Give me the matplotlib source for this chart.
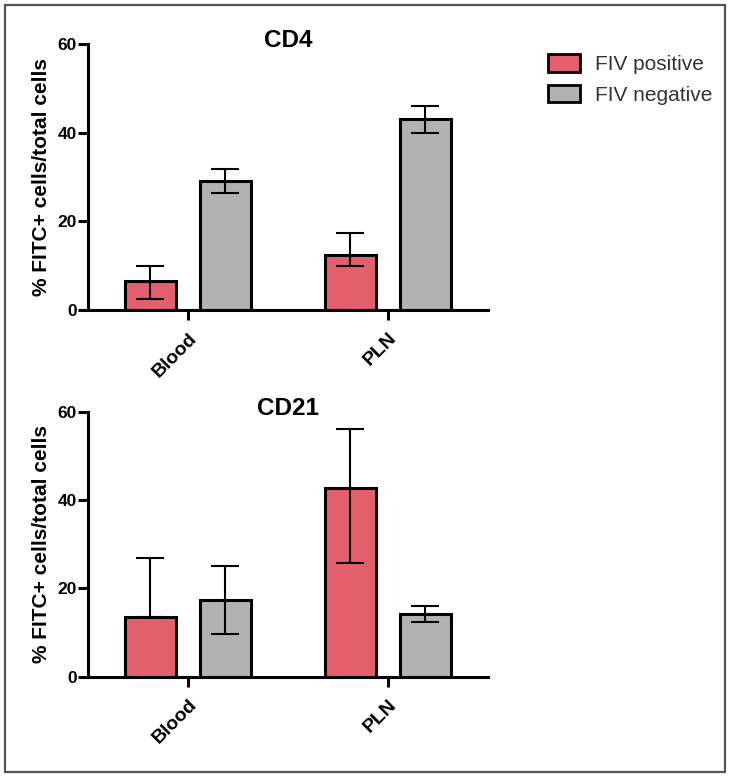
import numpy as np
import matplotlib
matplotlib.use("Agg")
from matplotlib import pyplot as plt
from matplotlib.patches import Rectangle
import matplotlib.transforms as mtransforms

# 数据
tissues = ["Blood", "PLN"]
groups = ["FIV positive", "FIV negative"]

cd4_pos = [6.5, 12.4]
cd4_pos_err_lo = [4.0, 2.5]
cd4_pos_err_hi = [3.4, 5.0]
cd4_neg = [29.1, 43.0]
cd4_neg_err = [2.6, 3.0]

cd21_pos = [13.6, 42.8]
cd21_pos_err_lo = [0.0, 17.0]
cd21_pos_err_hi = [13.3, 13.4]
cd21_neg = [17.4, 14.1]
cd21_neg_err = [7.7, 1.8]

red = "#E35F6E"
grey = "#B2B2B2"

plt.rcParams['font.family'] = ['Liberation Sans', 'DejaVu Sans']

fig = plt.figure(figsize=(7.3, 7.78), dpi=100)

# 外框
fig.patches.append(Rectangle((0.007, 0.008), 0.986, 0.985, transform=fig.transFigure,
                             fill=False, edgecolor="#555555", linewidth=1.6))


def draw_panel(ax, title, pos, pos_lo, pos_hi, neg, neg_lo, neg_hi):
    x = np.arange(len(tissues))
    w = 0.255
    off = 0.1875
    ax.bar(x - off, pos, w, color=red, edgecolor="black", linewidth=2.2, zorder=2)
    ax.bar(x + off, neg, w, color=grey, edgecolor="black", linewidth=2.2, zorder=2)
    ax.errorbar(x - off, pos, yerr=[pos_lo, pos_hi], fmt="none", ecolor="black",
                elinewidth=1.5, capsize=10, capthick=1.5, zorder=3)
    ax.errorbar(x + off, neg, yerr=[neg_lo, neg_hi], fmt="none", ecolor="black",
                elinewidth=1.5, capsize=10, capthick=1.5, zorder=3)
    ax.set_xlim(-0.5, 1.5)
    ax.set_ylim(0, 60)
    ax.set_yticks([0, 20, 40, 60])
    ax.set_xticks(x)
    ax.set_xticklabels(tissues, rotation=45, ha="right", rotation_mode="anchor",
                       fontweight="bold", fontsize=14)
    shift = mtransforms.ScaledTranslation(-3 / 100, 0, fig.dpi_scale_trans)
    for lab in ax.get_xticklabels():
        lab.set_transform(lab.get_transform() + shift)
    for lab in ax.get_yticklabels():
        lab.set_fontweight("bold")
        lab.set_fontsize(12.5)
    ax.spines["top"].set_visible(False)
    ax.spines["right"].set_visible(False)
    ax.spines["left"].set_linewidth(2.2)
    ax.spines["bottom"].set_linewidth(2.2)
    ax.tick_params(axis="both", direction="out", length=7, width=2.2, pad=1)
    ax.tick_params(axis="x", pad=7)
    ax.set_ylabel("% FITC+ cells/total cells", fontweight="bold", fontsize=15, labelpad=5)
    ax.set_title(title, fontweight="bold", fontsize=17.5, pad=-2.5, y=1.0)


ax1 = fig.add_axes([0.1205, 0.6015, 0.548, 0.342])
draw_panel(ax1, "CD4", cd4_pos, cd4_pos_err_lo, cd4_pos_err_hi,
           cd4_neg, cd4_neg_err, cd4_neg_err)

ax2 = fig.add_axes([0.1205, 0.1302, 0.548, 0.3406])
draw_panel(ax2, "CD21", cd21_pos, cd21_pos_err_lo, cd21_pos_err_hi,
           cd21_neg, cd21_neg_err, cd21_neg_err)

# 图例
handles = [Rectangle((0, 0), 1, 1, facecolor=red, edgecolor="black", linewidth=2),
           Rectangle((0, 0), 1, 1, facecolor=grey, edgecolor="black", linewidth=2)]
leg = fig.legend(handles, groups, loc="upper left", bbox_to_anchor=(0.7507, 0.930),
                 frameon=False, fontsize=15, handlelength=1.54, handleheight=0.9,
                 handletextpad=0.72, labelspacing=0.5, borderpad=0, borderaxespad=0)
for t in leg.get_texts():
    t.set_color("#333333")

fig.savefig("out.png", dpi=100)
